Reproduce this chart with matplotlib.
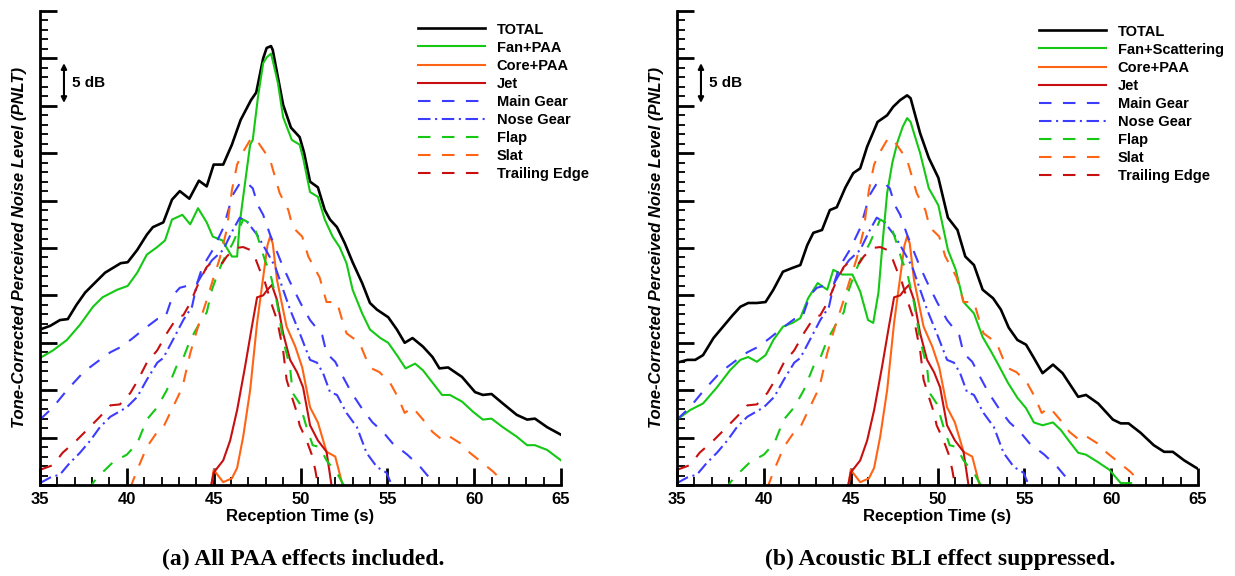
import matplotlib
matplotlib.use("Agg")
import matplotlib.pyplot as plt
from matplotlib.ticker import MultipleLocator

plt.rcParams["font.family"] = ["Liberation Sans", "DejaVu Sans"]
plt.rcParams["font.weight"] = "bold"

# ---------------- data (reception time [s], PNLT [dB]) ----------------
# Panel (a): TOTAL
t_total_a = [35.0, 35.6, 36.15, 36.6, 37.1, 37.6, 38.2, 38.75, 39.2, 39.65,
             40.05, 40.6, 41.15, 41.5, 42.1, 42.6, 43.05, 43.6, 44.15, 44.6,
             45.0, 45.55, 46.05, 46.55, 47.15, 47.45, 47.65, 47.85, 48.05, 48.3,
             48.4, 48.7, 49.0, 49.45, 49.95, 50.2, 50.55, 51.0, 51.4, 51.7,
             52.1, 52.55, 53.0, 53.55, 54.0, 54.4, 55.05, 55.55, 56.0, 56.45,
             57.05, 57.6, 58.0, 58.5, 59.3, 60.05, 60.5, 61.0, 61.65, 62.45,
             63.05, 63.5, 64.2, 65.0]
L_total_a = [66.4, 66.8, 67.4, 67.5, 69.0, 70.3, 71.4, 72.4, 72.9, 73.4,
             73.5, 74.8, 76.4, 77.2, 77.7, 80.1, 81.0, 80.2, 82.1, 81.5,
             83.8, 83.8, 85.9, 88.5, 90.6, 91.4, 93.2, 95.0, 96.1, 96.3,
             95.9, 93.0, 90.1, 87.7, 86.7, 85.1, 82.0, 81.4, 79.0, 78.0,
             77.2, 75.5, 73.5, 71.3, 69.2, 68.5, 67.7, 66.4, 65.0, 65.5,
             64.6, 63.5, 62.3, 62.4, 61.4, 59.8, 59.5, 59.6, 58.6, 57.4,
             56.9, 57.0, 56.1, 55.3]

# Panel (a): Fan+PAA
t_fan_a = [35.0, 35.75, 36.55, 37.3, 38.05, 38.6, 39.45, 40.05, 40.6, 41.15,
           41.75, 42.2, 42.6, 43.2, 43.65, 44.1, 44.6, 44.95, 45.5, 46.05,
           46.35, 46.5, 46.7, 47.1, 47.25, 47.55, 47.85, 48.05, 48.3, 48.4,
           48.7, 49.0, 49.5, 49.95, 50.15, 50.55, 51.0, 51.4, 51.85, 52.25,
           52.65, 53.0, 53.55, 54.0, 54.6, 55.05, 55.55, 56.05, 56.6, 57.05,
           57.6, 58.15, 58.6, 59.3, 59.95, 60.5, 61.0, 61.65, 62.45, 63.05,
           63.5, 64.2, 65.0]
L_fan_a = [63.4, 64.2, 65.3, 66.9, 68.8, 69.8, 70.6, 71.0, 72.4, 74.3,
           75.1, 75.8, 78.0, 78.5, 77.5, 79.2, 77.7, 76.2, 75.8, 74.1,
           74.1, 77.6, 80.4, 85.9, 86.4, 90.9, 94.5, 95.1, 95.5, 94.8,
           92.4, 88.8, 86.4, 85.9, 84.5, 80.9, 80.4, 78.0, 76.2, 75.1,
           73.4, 70.6, 68.1, 66.4, 65.5, 65.0, 63.7, 62.3, 62.8, 62.1,
           60.8, 59.5, 59.5, 58.8, 57.7, 56.9, 57.0, 56.1, 55.1, 54.2,
           54.2, 53.7, 52.6]

# Panel (b): TOTAL
t_total_b = [35.0, 35.6, 36.05, 36.5, 37.1, 37.65, 38.2, 38.65, 39.1, 39.6,
             40.1, 40.55, 41.1, 41.65, 42.1, 42.5, 42.85, 43.35, 43.8, 44.2,
             44.7, 45.15, 45.55, 45.95, 46.55, 47.1, 47.45, 47.85, 48.25, 48.45,
             49.0, 49.5, 50.05, 50.6, 51.15, 51.6, 52.1, 52.6, 53.2, 53.65,
             54.1, 54.6, 55.1, 55.55, 56.05, 56.65, 57.2, 58.1, 58.55, 59.25,
             60.1, 60.55, 61.0, 61.7, 62.45, 63.05, 63.55, 64.2, 65.0]
L_total_b = [62.9, 63.2, 63.2, 63.7, 65.5, 66.7, 67.9, 68.8, 69.2, 69.2,
             69.3, 70.6, 72.5, 72.9, 73.2, 75.3, 76.6, 76.9, 79.0, 79.3,
             81.4, 82.9, 83.4, 85.7, 88.3, 89.0, 89.9, 90.6, 91.1, 90.8,
             87.1, 84.5, 82.4, 78.2, 76.9, 74.1, 73.2, 70.6, 69.7, 68.5,
             66.6, 65.3, 64.8, 63.4, 61.8, 62.7, 61.8, 59.3, 59.5, 58.6,
             56.9, 56.5, 56.5, 55.5, 54.2, 53.5, 53.5, 52.6, 51.7]

# Panel (b): Fan+Scattering
t_fan_b = [35.0, 35.75, 36.5, 37.3, 38.05, 38.65, 39.1, 39.6, 40.1, 40.55,
           41.1, 41.65, 42.1, 42.55, 43.1, 43.65, 44.0, 44.5, 45.1, 45.55,
           46.0, 46.3, 46.6, 46.85, 47.1, 47.4, 47.7, 48.0, 48.25, 48.45,
           49.0, 49.5, 50.05, 50.6, 51.05, 51.5, 52.1, 52.6, 53.05, 53.5,
           54.05, 54.6, 55.1, 55.55, 56.05, 56.65, 57.1, 57.55, 58.1, 58.55,
           59.25, 59.9, 60.55, 61.15]
L_fan_b = [56.9, 57.9, 58.6, 60.3, 62.1, 63.2, 63.5, 63.0, 63.7, 65.3,
           66.7, 67.1, 67.6, 69.7, 71.3, 70.6, 72.7, 72.2, 72.2, 70.4,
           67.4, 67.1, 70.3, 75.8, 80.8, 84.0, 86.2, 87.8, 88.7, 88.3,
           85.0, 81.3, 79.5, 74.8, 72.7, 69.3, 68.1, 65.6, 64.2, 62.7,
           60.8, 59.2, 58.1, 56.6, 56.3, 56.6, 55.8, 54.7, 53.4, 53.2,
           52.4, 51.6, 50.2, 50.2]

# Components common to both panels
t_core = [44.85, 45.0, 45.55, 46.05, 46.35, 46.7, 47.1, 47.5, 47.85, 48.1,
          48.25, 48.4, 48.65, 49.2, 49.7, 50.1, 50.55, 51.0, 51.5, 52.0,
          52.45]
L_core = [49.5, 51.6, 50.3, 50.7, 51.8, 55.1, 60.0, 67.1, 71.9, 75.3,
          76.2, 75.5, 71.6, 66.7, 64.6, 62.4, 58.2, 56.6, 53.5, 53.0,
          49.8]

t_jet = [44.8, 45.0, 45.55, 45.95, 46.35, 46.8, 47.2, 47.5, 47.85, 48.1,
         48.35, 48.65, 49.0, 49.4, 49.8, 50.15, 50.55, 51.0, 51.5, 51.8]
L_jet = [49.5, 51.3, 52.6, 54.7, 57.9, 62.4, 66.7, 69.8, 70.0, 70.6,
         71.1, 69.5, 66.0, 63.2, 61.9, 60.3, 56.3, 54.7, 53.5, 49.8]

t_main = [35.0, 35.75, 36.55, 37.5, 38.3, 39.05, 39.7, 40.35, 40.95, 41.75,
          42.2, 42.65, 43.05, 44.05, 44.35, 44.95, 45.55, 46.1, 46.5, 46.9,
          47.25, 47.55, 47.85, 48.25, 48.6, 48.95, 49.4, 50.0, 50.55, 51.25,
          51.5, 52.0, 52.45, 52.95, 53.6, 54.15, 54.75, 55.3, 56.15, 56.9,
          57.45, 57.8]
L_main = [56.9, 58.2, 60.0, 61.9, 63.0, 64.0, 64.6, 65.5, 66.4, 67.5,
          67.6, 70.0, 70.8, 71.3, 73.0, 74.8, 77.1, 80.6, 81.8, 81.9,
          81.3, 79.5, 78.5, 76.4, 74.8, 73.2, 71.4, 69.2, 67.4, 65.8,
          63.9, 63.0, 61.4, 59.7, 57.9, 56.6, 55.6, 54.4, 53.2, 51.9,
          50.7, 49.8]

t_nose = [35.0, 35.6, 36.15, 36.7, 37.3, 37.9, 38.45, 39.05, 40.0, 40.6,
          41.15, 41.75, 42.1, 42.65, 43.25, 43.75, 44.05, 44.4, 44.9, 45.55,
          46.05, 46.5, 46.95, 47.5, 47.85, 48.55, 49.0, 49.4, 50.0, 50.55,
          50.95, 51.3, 51.7, 52.1, 52.65, 53.25, 53.8, 54.4, 54.95, 55.3]
L_nose = [50.2, 50.8, 51.1, 52.3, 53.4, 54.7, 56.1, 57.2, 58.2, 59.3,
          61.1, 62.9, 63.4, 65.3, 67.4, 68.8, 71.3, 72.4, 73.7, 74.8,
          76.7, 78.2, 77.7, 76.4, 75.3, 73.0, 70.6, 68.5, 65.8, 63.2,
          62.9, 61.8, 59.8, 59.5, 57.6, 56.1, 53.4, 51.9, 51.3, 49.8]

t_flap = [37.75, 38.3, 39.2, 40.0, 40.6, 41.15, 41.75, 42.3, 42.9, 43.25,
          43.65, 44.2, 44.6, 44.9, 45.25, 45.55, 46.1, 46.7, 47.1, 47.4,
          47.65, 47.95, 48.25, 48.65, 49.0, 49.4, 49.55, 49.95, 50.35, 50.7,
          51.1, 51.5, 51.8, 52.15, 52.55]
L_flap = [49.5, 50.8, 52.4, 53.2, 54.4, 56.9, 58.2, 60.0, 62.7, 63.4,
          65.3, 67.1, 68.2, 70.6, 72.4, 73.7, 75.5, 78.0, 77.6, 76.9,
          75.5, 73.7, 72.4, 69.2, 65.3, 62.4, 59.7, 58.6, 56.1, 54.2,
          54.0, 52.6, 51.9, 51.1, 49.8]

t_slat = [40.2, 40.6, 41.15, 41.75, 42.1, 42.65, 43.2, 43.65, 44.1, 44.6,
          44.95, 45.35, 45.75, 46.05, 46.35, 46.65, 47.1, 47.4, 47.65, 48.25,
          48.8, 49.3, 49.55, 50.1, 50.45, 51.1, 51.5, 52.1, 52.4, 52.65,
          53.4, 53.8, 54.1, 54.55, 55.15, 55.6, 56.0, 56.45, 57.05, 57.6,
          58.2, 58.6, 59.2, 59.75, 60.5, 61.1, 61.7]
L_slat = [49.7, 51.6, 54.0, 55.6, 56.1, 58.2, 60.3, 63.9, 66.7, 69.5,
          71.6, 73.9, 76.9, 81.1, 83.8, 85.0, 86.4, 86.6, 85.9, 84.3,
          80.8, 79.0, 77.2, 76.2, 74.1, 71.9, 69.3, 69.3, 67.4, 66.0,
          65.0, 63.2, 62.3, 61.9, 60.8, 59.3, 57.6, 58.2, 56.9, 55.6,
          54.7, 55.1, 54.4, 53.4, 52.3, 51.4, 50.3]

t_te = [35.0, 35.75, 36.3, 37.1, 37.7, 38.45, 39.05, 39.6, 40.2, 40.65,
        41.15, 41.75, 42.3, 42.9, 43.25, 43.65, 44.2, 44.6, 44.9, 45.5,
        45.75, 46.25, 46.7, 47.1, 47.4, 47.65, 47.95, 48.35, 48.65, 49.0,
        49.2, 49.5, 49.8, 49.95, 50.35, 50.65, 50.85, 51.0]
L_te = [51.6, 52.1, 53.4, 54.7, 55.8, 57.2, 58.4, 58.5, 59.7, 61.1,
        62.9, 64.2, 66.0, 67.7, 67.9, 69.2, 71.6, 73.0, 73.5, 73.4,
        74.1, 75.0, 75.1, 74.8, 73.9, 72.7, 71.4, 69.0, 67.4, 64.2,
        61.1, 59.3, 57.6, 56.3, 54.7, 53.2, 51.6, 50.0]

labels_a = ["TOTAL", "Fan+PAA", "Core+PAA", "Jet", "Main Gear", "Nose Gear",
            "Flap", "Slat", "Trailing Edge"]
labels_b = ["TOTAL", "Fan+Scattering", "Core+PAA", "Jet", "Main Gear",
            "Nose Gear", "Flap", "Slat", "Trailing Edge"]
captions = ["(a) All PAA effects included.", "(b) Acoustic BLI effect suppressed."]

# ---------------- styling ----------------
BLACK = "#000000"
GREEN = "#14c814"
ORANGE = "#ff6414"
RED = "#c80f0f"
BLUE = "#3c3cff"
DASH = (0, (6, 5.5))
DASHDOT = (0, (6, 2.2, 1, 2.2))
LW = 1.5

W, H = 1235, 576
fig = plt.figure(figsize=(W / 100, H / 100), dpi=100)
ax_left_px = [40, 677]
axes = [fig.add_axes([x0 / W, (H - 485) / H, 521 / W, 474 / H]) for x0 in ax_left_px]

panels = [
    (t_total_a, L_total_a, t_fan_a, L_fan_a, labels_a),
    (t_total_b, L_total_b, t_fan_b, L_fan_b, labels_b),
]

for i, (ax, (tt, lt, tf, lf, labels)) in enumerate(zip(axes, panels)):
    h = []
    h += ax.plot(tt, lt, color=BLACK, lw=1.9)
    h += ax.plot(tf, lf, color=GREEN, lw=LW)
    h += ax.plot(t_core, L_core, color=ORANGE, lw=LW)
    h += ax.plot(t_jet, L_jet, color=RED, lw=LW)
    h += ax.plot(t_main, L_main, color=BLUE, lw=LW, linestyle=DASH)
    h += ax.plot(t_nose, L_nose, color=BLUE, lw=LW, linestyle=DASHDOT)
    h += ax.plot(t_flap, L_flap, color=GREEN, lw=LW, linestyle=DASH)
    h += ax.plot(t_slat, L_slat, color=ORANGE, lw=LW, linestyle=DASH)
    h += ax.plot(t_te, L_te, color=RED, lw=LW, linestyle=DASH)

    ax.set_xlim(35, 65)
    ax.set_ylim(50, 100)
    for s in ("top", "right"):
        ax.spines[s].set_visible(False)
    for s in ("left", "bottom"):
        ax.spines[s].set_linewidth(2)
    ax.xaxis.set_major_locator(MultipleLocator(5))
    ax.xaxis.set_minor_locator(MultipleLocator(1))
    ax.yaxis.set_major_locator(MultipleLocator(5))
    ax.yaxis.set_minor_locator(MultipleLocator(1))
    ax.tick_params(which="major", direction="in", length=12, width=2,
                   labelsize=12, pad=5)
    ax.tick_params(which="minor", direction="in", length=6, width=1.3)
    ax.tick_params(axis="y", labelleft=False)
    for lab in ax.get_xticklabels():
        lab.set_fontweight("bold")

    ax.set_xlabel("Reception Time (s)", fontsize=12, fontweight="bold")
    ax.xaxis.set_label_coords(0.5, -32 / 474)
    ax.xaxis.label.set_va("center")
    ax.set_ylabel("Tone-Corrected Perceived Noise Level (PNLT)", fontsize=12,
                  fontweight="bold", fontstyle="italic")
    ax.yaxis.set_label_coords(-20 / 521, 0.5)
    ax.yaxis.label.set_va("center")

    # 5 dB scale arrow
    ax.annotate("", xy=(0.046, 0.890), xytext=(0.046, 0.806),
                xycoords="axes fraction",
                arrowprops=dict(arrowstyle="<|-|>", lw=1.5, color="k",
                                mutation_scale=8, shrinkA=0, shrinkB=0))
    ax.text(0.062, 0.848, "5 dB", transform=ax.transAxes, fontsize=11,
            fontweight="bold", va="center", ha="left")

    leg_x = [418, 1039][i]
    leg_y = [22.5, 24.5][i]
    ax.legend(h, labels, loc="upper left",
              bbox_to_anchor=(leg_x / W, 1 - leg_y / H),
              bbox_transform=fig.transFigure, frameon=False,
              prop={"size": 10.5, "weight": "bold"},
              handlelength=4.6, handletextpad=0.8, labelspacing=0.28,
              borderpad=0, borderaxespad=0)

    fig.text((ax_left_px[i] + 263) / W, 1 - 559 / H, captions[i],
             family=["Liberation Serif", "DejaVu Serif"], fontweight="bold",
             fontsize=17, ha="center", va="center")

fig.savefig("out.png", dpi=100)
